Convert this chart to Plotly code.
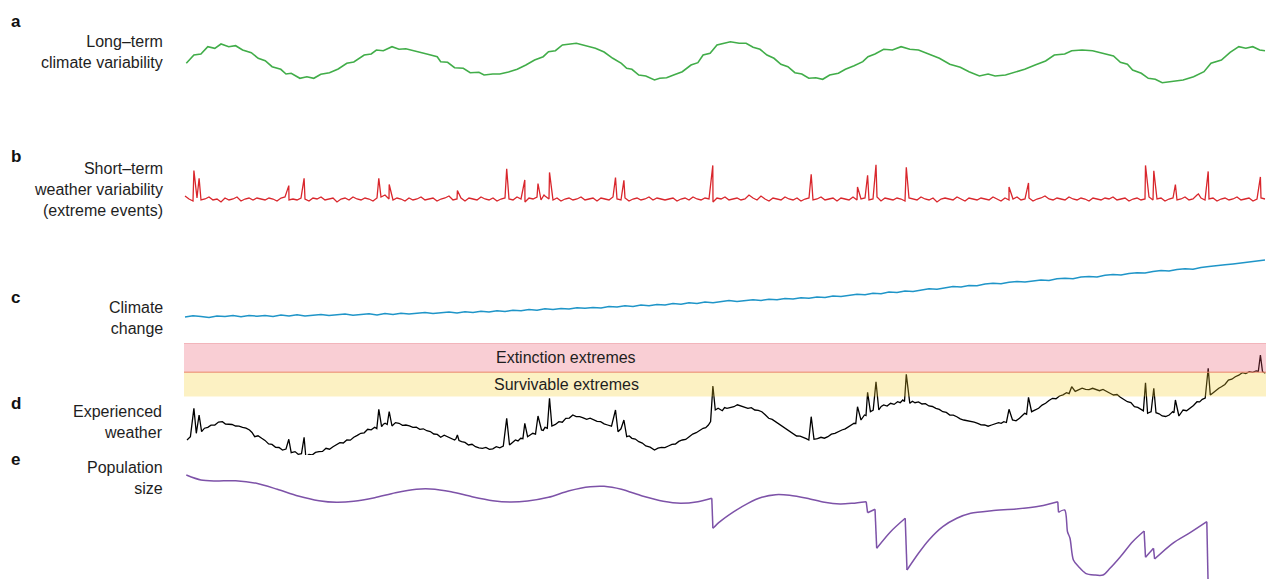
import plotly.graph_objects as go

W, H = 1266, 579

# ---------------- data (time steps, panel-specific units) ----------------
# a: long-term climate variability
green_t = [1.3, 8.9, 15.9, 22.8, 29.8, 36, 43.7, 50.6, 57.6, 66.3, 73.2, 80.2, 87.1, 95.8, 101, 106.2,
           114.9, 121.9, 128.8, 135.8, 144.5, 153.2, 161.8, 168.8, 179.2, 186.2, 191.4, 198.3, 207, 214,
           220.9, 231.4, 241.8, 252.2, 255.7, 262.6, 269.6, 278.3, 285.2, 293.9, 299.1, 307.8, 314.8,
           323.5, 332.2, 340.9, 349.6, 358.2, 363.5, 370.4, 377.4, 391.3, 401.7, 410.4, 419.1, 427.8,
           436.4, 441.7, 446.9, 453.8, 460.8, 469.5, 474.7, 481.6, 488.6, 497.3, 506, 512.9, 518.1,
           525.1, 532, 545.4, 554.2, 561.1, 568.1, 575, 582, 589, 595.9, 602.9, 609.9, 616.8, 623.8,
           630.8, 637.7, 644.7, 653.4, 660.4, 669.1, 677.8, 683, 690, 698.7, 707.4, 716.1, 724.8, 733.5,
           743.9, 754.4, 764.8, 775.3, 784, 794.4, 803.1, 810.1, 820.5, 829.2, 839.7, 850.1, 860.6,
           869.3, 879.7, 886.7, 897.1, 907.6, 918, 928.5, 935.4, 942.4, 947.6, 956.3, 963.3, 970.3,
           977.2, 987.7, 998.1, 1008.6, 1019, 1026, 1036.4, 1045.1, 1053.8, 1060.8, 1067.8, 1074.7, 1080]
green_v = [-1.3, 7, 8, 15.3, 13.7, 18, 15.3, 16.3, 12, 9.3, 3.7, 1.3, -4.7, -7.3, -12, -11.3,
           -16.3, -14.7, -16.3, -12.3, -10.7, -7, -1.3, 0, 7, 8, 12, 11.3, 15.3, 12.7,
           13.3, 10.3, 8, 5.3, 0.3, -0.3, -5.7, -6.3, -10.7, -10.3, -13, -12, -12,
           -10, -7.3, -3, 2, 5.3, 10.3, 11.3, 17, 18.7, 16.3, 13.7, 10, 3.7,
           -1.3, -6.3, -7.3, -13, -14, -18, -16.3, -15.7, -13, -9.7, -3, -0.7, 7,
           8.7, 17, 20.3, 18.7, 18.7, 14.7, 12.7, 7, 3.7, -2.3, -4.7, -10.7, -12, -16.3,
           -15.7, -17.3, -13, -11.3, -7.3, -3.7, 0.3, 5.3, 8, 12.7, 12, 15.3, 12.7, 12,
           8, 3.7, -2.3, -5.3, -9.7, -14, -12, -14, -13, -10.3, -7.3, -3, 1,
           7, 8, 11.3, 12, 11.3, 8.7, 6, -0.3, -2.3, -8, -11.3, -16.3, -17.3,
           -20.7, -19.7, -18, -14.7, -9.7, -1.3, 2, 9.7, 15.3, 13.7, 15.3, 12, 11.3]

# b: short-term weather variability — baseline sampled every 4 steps, plus extreme events
red_step = 4
red_base = [3, 0, -2, 1, -1, 0, 2, -1, 0, -3,
            1, -1, 0, 2, -2, 0, 1, -1, 1, 0,
            -1, 1, 0, -2, 1, 2, -1, 0, -1, 1,
            0, -2, 1, 0, 2, -1, 0, 1, -3, 0,
            1, -1, 2, 0, -1, 1, 0, -2, 1, 2,
            4, 0, -1, 1, 0, -2, 1, -1, 0, 2,
            -1, 0, 1, -2, 0, 1, 3, -1, 0, 1,
            -2, 1, 0, -1, 2, 0, -1, 1, -2, 0,
            1, 0, -1, 2, 0, -3, 1, 0, 2, -1,
            3, 0, -1, 1, -2, 0, 1, -1, 0, 2,
            -1, 0, 1, -2, 1, 0, -1, 2, 0, -1,
            1, -2, 0, 1, -1, 0, 2, -1, 1, 0,
            -1, 0, 1, -2, 0, 1, -1, 2, 0, -1,
            1, 0, -3, 1, 0, 2, -1, 0, 1, -1,
            0, 4, 1, -1, 3, 0, -2, 1, 0, -1,
            2, 0, -1, 1, -2, 0, 1, -1, 0, 2,
            -1, 0, 1, -2, 1, 0, -1, 2, -1, 0,
            1, -1, 0, 2, -2, 1, 0, -1, 1, 0,
            -2, 1, 0, -1, 2, 0, -1, 1, -3, 0,
            1, 0, -1, 2, 0, -2, 1, 0, -1, 1,
            0, -1, 2, 0, -2, 1, -1, 0, 2, -1,
            0, 1, -2, 0, 1, 3, 0, -1, 1, 0,
            -1, 2, 0, -1, 1, 0, -2, 1, 0, -1,
            1, 0, 2, -1, 0, 1, -2, 0, 1, -1,
            0, 2, -1, 0, 1, -2, 0, 1, -1, 0,
            2, -1, 0, 4, 1, -1, 0, 1, -2, 0,
            1, -1, 0, 2, -1, 0, 1, -2, 0, 1,
            0]
event_t = [8.9, 14.1, 103.8, 119.1, 193.8, 199.4, 204.2, 272.4, 321.7, 339.8, 353, 359, 364.5,
           430.5, 438.9, 527.8, 626.2, 672.5, 682.6, 691, 721.3, 824, 843.5, 960.5, 968.8,
           990.4, 1013.4, 1023.2, 1075.4]
event_v = [28.4, 20.7, 13.4, 20.7, 20.7, 3.3, 14.5, 8.5, 30.1, 19, 15.5, 4, 26.6,
           21.4, 18.6, 33.6, 24.8, 12, 23.8, 34.3, 31.8, 12, 16.1, 33.6, 28.3,
           14.4, 5, 27.6, 22.1]

# c: climate change — sampled every 8 steps
blue_step = 8
blue_v = [3.0, 4.2, 3.5, 2.6, 4.0, 3.6, 4.4, 3.2, 4.6, 3.8,
          4.5, 3.6, 4.9, 4.0, 5.3, 3.9, 4.8, 5.6, 4.5, 5.2,
          5.9, 4.8, 5.7, 6.2, 5.1, 6.4, 5.6, 6.8, 6.0, 6.6,
          7.4, 6.5, 7.2, 7.9, 7.0, 8.3, 7.6, 8.8, 8.1, 9.2,
          8.6, 9.8, 9.3, 10.5, 9.8, 11.2, 10.6, 11.6, 11.0, 12.3,
          11.8, 12.6, 12.1, 13.4, 13.0, 14.2, 13.5, 14.9, 14.3, 15.6,
          15.1, 16.4, 15.8, 17.3, 16.6, 17.9, 17.2, 18.6, 19.5, 18.4,
          19.6, 20.3, 19.6, 20.8, 20.2, 21.6, 21.0, 22.3, 21.7, 23.0,
          22.6, 24.0, 23.6, 24.9, 25.8, 25.2, 26.7, 26.3, 27.9, 27.5,
          29.0, 28.6, 30.1, 31.3, 30.8, 32.4, 33.4, 33.0, 34.5, 34.2,
          36.0, 36.8, 36.2, 37.7, 38.4, 37.9, 39.3, 40.1, 39.6, 41.2,
          41.8, 41.3, 42.9, 43.6, 43.1, 44.7, 45.5, 45.0, 46.6, 47.3,
          47.0, 48.6, 49.4, 48.9, 50.5, 51.3, 50.8, 52.5, 53.4, 54.0,
          55.2, 56.1, 56.9, 58.0, 58.8, 60.0]

# d: experienced weather
black_t = [2, 5.4, 8.9, 11.3, 14.1, 16.6, 19.5, 22.8, 26, 29.8, 33.5, 37.4, 40.5, 43.7, 47, 50.6, 54, 57.6,
           61, 64.5, 67, 69.7, 73, 76.7, 80, 83.6, 87, 90.6, 94, 97.5, 101, 103.8, 106.2, 110, 113.2, 116.5,
           119.1, 120.8, 124, 127.1, 130.5, 134, 137.5, 141, 144.5, 148, 151.5, 154.9, 158.3, 161.8, 165.3,
           168.8, 172.3, 175.8, 179.2, 182.7, 186.2, 189.7, 191.8, 193.8, 196.6, 198.4, 200.1, 202.2, 204.2,
           207, 210.5, 214, 217.5, 220.9, 224.4, 227.9, 231.3, 234.8, 238.3, 241.8, 245.3, 248.8, 252.3,
           255.7, 259.2, 262.6, 266.1, 269.6, 271, 272.4, 274, 276.6, 280, 283.5, 287, 290.5, 294, 297.4,
           300.9, 304.4, 307.8, 311.3, 314.8, 318.3, 321.7, 324.5, 327.5, 330.4, 333, 335.7, 337.9, 339.8,
           342.6, 345.2, 347.8, 350.5, 353, 356.5, 358.2, 360, 362.3, 364.5, 366.9, 370.4, 373.9, 377.3,
           380.8, 384.3, 387.8, 391.2, 394.7, 398.2, 401.7, 405.1, 408.6, 412.1, 415.6, 419.1, 422.6, 426.5,
           430.5, 433, 436, 438.9, 441.7, 444.3, 446.9, 450.3, 453.8, 457.3, 460.8, 465.1, 469.5, 473,
           476.4, 479.9, 483.4, 486.9, 490.4, 493.8, 497.3, 500.7, 504.2, 507.7, 511.2, 514.6, 518.1, 520.7,
           523.4, 525.6, 527.9, 530.3, 533.1, 537.3, 539.6, 542, 545.4, 548.9, 552.4, 555.9, 559.4, 562.9,
           566.3, 569.8, 573.3, 576.8, 580.2, 583.7, 587.2, 590.7, 594.2, 597.7, 601.1, 604.6, 608.1, 611.6,
           615.1, 618.6, 621.2, 623.8, 626.2, 629, 632.5, 636, 639.4, 642.9, 646.4, 649.9, 653.4, 656.9,
           660.3, 663.8, 666.4, 669.1, 670.8, 672.5, 676, 679.5, 681, 682.6, 685.4, 688.2, 691, 693.8, 696.2,
           698.7, 702.1, 705.6, 709.1, 712.6, 715.2, 717.8, 719.5, 721.3, 724.8, 727.4, 730, 733.5, 737,
           740.4, 743.9, 747.4, 750.9, 754.3, 757.8, 761.3, 764.8, 768.3, 771.8, 775.2, 778.7, 782.2, 785.7,
           789.2, 792.7, 796.1, 799.6, 803.1, 806.6, 810.1, 813.6, 816.2, 818.8, 821.4, 824, 827.5, 831,
           834.5, 837.1, 839.7, 841.6, 843.5, 846.6, 850.1, 853.6, 857.1, 860.6, 864, 867.5, 871, 874.5,
           878, 881.5, 884.1, 886.7, 890.2, 893.7, 897.1, 900.6, 904.1, 907.6, 911, 914.5, 918, 921.5, 925,
           928.5, 932, 935.4, 938.9, 942.4, 945.9, 949.4, 952.8, 956.3, 958.4, 960.5, 962.6, 964.3, 966.1,
           968.8, 971, 974.1, 977.2, 980.7, 984.2, 985.9, 987.7, 988.9, 990.4, 993.9, 996, 998.1, 1001.6,
           1005.1, 1008.5, 1012, 1014.6, 1017.3, 1020.2, 1023.2, 1025.3, 1028.2, 1031.2, 1033.8, 1036.4,
           1039.9, 1043.4, 1046.8, 1050.3, 1053.8, 1057.3, 1060.8, 1064.3, 1067.7, 1071.2, 1073.3, 1075.4,
           1077.5, 1080.3]
black_v = [20, 23.3, 51.7, 26.7, 45, 28.3, 31.8, 32.7, 34.9, 35, 37.9, 38.3, 36, 36, 35.5, 34, 33.8, 32.7,
           31.9, 30, 27.5, 23.3, 24.2, 21.7, 19.6, 16, 15.6, 12.7, 12.5, 10, 11, 20.7, 7.3, 8.4, 5.7, 6.4,
           22.7, 3.3, 5.5, 5, 7.6, 8.3, 8.6, 11.7, 10.8, 13.3, 15.4, 17.3, 17, 20, 19.8,
           22.7, 24.6, 26.7, 27.2, 30.7, 30.2, 32.7, 31.4, 50.7, 33.3, 35.8, 36.7, 35.5, 48.3,
           34, 37.4, 36.7, 34.6, 35, 34.2, 32.7, 32.8, 30.7, 31.2, 29.3, 28.5, 26, 25.6,
           22.7, 24.8, 23.3, 21.2, 20, 21.4, 25, 19.5, 18.3, 17.6, 15, 15.7, 13.3, 12.1, 11.7,
           12.6, 10.7, 11.2, 13.3, 12.2, 14, 41.7, 15, 17.6, 20, 19.1, 21.7, 21.3, 36.7,
           23.3, 24.9, 26.7, 25.8, 44, 30, 29.6, 32.7, 31.8, 61.7, 34, 35.6, 38.3, 37.8,
           41.7, 41.9, 45, 43.4, 43.3, 42.2, 40.7, 41.8, 40, 38.6, 38.3, 36.1, 35, 33.8,
           50, 28.3, 31.2, 40, 23.3, 24.1, 21.7, 20.9, 18.3, 16.9, 14, 12.9, 10, 11.9,
           12.7, 12.3, 14, 15.6, 16, 18.6, 20, 20.6, 23.3, 25.9, 27.3, 29.8, 31.7, 32.4,
           35, 38.5, 74, 50, 51.7, 49.3, 52.4, 51.7, 52.2, 53.3, 55.2, 54, 52.5, 51.7,
           52.4, 50, 49.6, 48.3, 45.2, 41.7, 40.6, 38.3, 35.4, 33.3, 30.7, 28.3, 26.8, 24,
           23.9, 22.7, 21.3, 20, 43.3, 20.7, 21.3, 22.7, 21.8, 23.3, 25.8, 26.7, 28.6, 30,
           31.1, 33.3, 35.4, 36.7, 36.4, 53.3, 40, 45, 44.5, 67.7, 48.3, 50, 78.3, 50, 53.6,
           55, 53.9, 56.7, 55.6, 58.3, 57.3, 60, 58.5, 85.7, 56.7, 58.8, 57.3, 58.1, 56,
           56.3, 54, 53.5, 51.7, 50.6, 48.3, 47.6, 45, 44.9, 43.3, 41.1, 40, 39.4, 38.3,
           37.8, 36.7, 35.1, 35, 33.8, 35, 36.4, 37.3, 36.6, 38.3, 37.5, 50.7, 40, 39.2,
           41.7, 43.9, 46.7, 45.8, 62.7, 48.3, 49.6, 51.7, 54.9, 56.7, 59.5, 61.7, 61.3, 64,
           65.2, 67.3, 66.4, 73.3, 68.6, 70, 71.9, 70.7, 70.4, 71.7, 70.2, 69.3, 70.5, 68.3, 66.8,
           65, 65.5, 62.7, 60.9, 58.3, 57.4, 53.3, 52.6, 50, 49.2, 77.3, 46.7, 47.5, 48.3,
           71.7, 47.3, 46.2, 44, 43.5, 45, 46.6, 48.3, 47.2, 60, 44, 47.5, 50, 49.3,
           51.7, 54.6, 58.3, 58.1, 60.7, 61.9, 91.7, 65, 67.3, 70, 71.8, 73.3,
           75.5, 80, 80.8, 83.3, 84.8, 87.3, 86.4, 88.3, 87.6, 89, 88.5, 105,
           88.3, 86.7]
band_top = 116.5            # upper edge of "Extinction extremes"
extinction_threshold = 87.8 # boundary extinction / survivable
survivable_threshold = 63.4 # lower edge of "Survivable extremes"

# e: population size
pop_t = [1.3, 15.9, 29.8, 50.6, 71.5, 92.3, 113.2, 134, 151.4, 168.8,
         189.7, 210.5, 231.4, 245.3, 266.1, 287, 307.8, 325.2, 342.6, 363.5,
         384.3, 405.2, 419.1, 436.4, 457.3, 478.2, 495.5, 512.9, 526.8, 527.9,
         535, 548.9, 562.9, 576.8, 590.7, 604.6, 622, 639.5, 655.1, 667.3,
         681.2, 682.6, 690, 691.7, 705.6, 720.2, 722, 733.5, 743.9, 757.8,
         771.8, 785.7, 806.6, 831, 855.3, 872.8, 873.5, 879.7, 882.5, 885,
         888.4, 893.6, 900.6, 909.3, 918, 925, 935.4, 947.6, 959.1, 960.5,
         968.5, 969.6, 987.7, 1005.1, 1021.8, 1023.2]
pop_v = [105, 100, 99, 99.3, 96.7, 90.7, 84, 79.3, 77.7, 78.7,
         82.3, 87.3, 90.7, 91, 88.3, 83.3, 79.3, 78, 79, 82.7,
         89.3, 93.3, 93.7, 90.7, 84, 78.7, 76.7, 78.3, 81.7, 51.7,
         58.3, 68.3, 76.7, 82.7, 85.3, 84.7, 81.7, 77.7, 76, 76.7,
         78.3, 67.3, 70.7, 31.7, 48.3, 61.7, 10, 26.7, 40, 53.3,
         61.7, 66.7, 69.3, 71, 74, 78.3, 67.7, 70, 48.3, 41.7,
         20, 13.3, 6.7, 5, 5, 11.7, 23.3, 38.3, 49, 22.7,
         31.7, 21, 36.7, 47.3, 58.3, -8]

# ---------------- figure ----------------
FONT = "Liberation Sans, Arial, Helvetica, sans-serif"
TXT = "#1e1e1e"
PURPLE = "#7d52a8"

def dom(top_px, bot_px):
    return [1 - bot_px / H, 1 - top_px / H]

fig = go.Figure()

fig.add_trace(go.Scatter(x=green_t, y=green_v, mode="lines", yaxis="y",
                         line=dict(color="#41ad49", width=1.6), hoverinfo="skip"))

red_pts = [(i * red_step, v) for i, v in enumerate(red_base)] + list(zip(event_t, event_v))
red_pts.sort(key=lambda p: p[0])
fig.add_trace(go.Scatter(x=[p[0] for p in red_pts], y=[p[1] for p in red_pts], mode="lines",
                         yaxis="y2", line=dict(color="#d9262c", width=1.3), hoverinfo="skip"))

fig.add_trace(go.Scatter(x=[i * blue_step for i in range(len(blue_v))], y=blue_v, mode="lines",
                         yaxis="y3", line=dict(color="#1f95c8", width=1.5), hoverinfo="skip"))

fig.add_trace(go.Scatter(x=black_t, y=black_v, mode="lines", yaxis="y4",
                         line=dict(color="#000000", width=1.3), hoverinfo="skip"))

# population: smooth growth pieces (spline) joined by abrupt crashes (straight drops)
pieces, cur = [], [0]
for i in range(1, len(pop_t)):
    if pop_t[i] - pop_t[i - 1] < 2:
        pieces.append(cur)
        cur = [i]
    else:
        cur.append(i)
pieces.append(cur)
drop_x, drop_y = [], []
for a, b in zip(pieces[:-1], pieces[1:]):
    drop_x += [pop_t[a[-1]], pop_t[b[0]], None]
    drop_y += [pop_v[a[-1]], pop_v[b[0]], None]
for p in pieces:
    if len(p) > 1:
        fig.add_trace(go.Scatter(x=[pop_t[i] for i in p], y=[pop_v[i] for i in p], mode="lines",
                                 yaxis="y5", line=dict(color=PURPLE, width=1.5, shape="spline",
                                                       smoothing=0.8), hoverinfo="skip"))
fig.add_trace(go.Scatter(x=drop_x, y=drop_y, mode="lines", yaxis="y5",
                         line=dict(color=PURPLE, width=1.5), hoverinfo="skip"))

# threshold bands (drawn over the line, semi-transparent)
fig.add_shape(type="rect", xref="x", yref="y4", x0=-1, x1=1081, y0=extinction_threshold, y1=band_top,
              fillcolor="rgba(232,80,100,0.28)", line=dict(width=0), layer="above")
fig.add_shape(type="rect", xref="x", yref="y4", x0=-1, x1=1081, y0=survivable_threshold,
              y1=extinction_threshold, fillcolor="rgba(245,205,40,0.28)", line=dict(width=0), layer="above")
fig.add_shape(type="line", xref="x", yref="y4", x0=-1, x1=1081, y0=band_top, y1=band_top,
              line=dict(color="rgba(230,120,130,0.45)", width=1.2), layer="above")
fig.add_shape(type="line", xref="x", yref="y4", x0=-1, x1=1081, y0=extinction_threshold,
              y1=extinction_threshold, line=dict(color="rgba(235,140,110,0.7)", width=1.5), layer="above")

fig.add_annotation(x=381, y=(extinction_threshold + band_top) / 2, xref="x", yref="y4",
                   text="Extinction extremes", showarrow=False, font=dict(family=FONT, size=16, color=TXT))
fig.add_annotation(x=381, y=(survivable_threshold + extinction_threshold) / 2, xref="x", yref="y4",
                   text="Survivable extremes", showarrow=False, font=dict(family=FONT, size=16, color=TXT))

labels = [("a", 22, "Long–term<br>climate variability", 51.5),
          ("b", 157, "Short–term<br>weather variability<br>(extreme events)", 189.5),
          ("c", 297, "Climate<br>change", 317.5),
          ("d", 403, "Experienced<br>weather", 421.5),
          ("e", 459, "Population<br>size", 478)]
for letter, ly, text, ty in labels:
    fig.add_annotation(x=9 / W, y=1 - ly / H, xref="paper", yref="paper", text="<b>%s</b>" % letter,
                       showarrow=False, xanchor="left", yanchor="middle",
                       font=dict(family=FONT, size=17, color="#111"))
    fig.add_annotation(x=165 / W, y=1 - ty / H, xref="paper", yref="paper", text=text,
                       showarrow=False, xanchor="right", yanchor="middle", align="right",
                       font=dict(family=FONT, size=16, color=TXT))

ax = dict(visible=False, showgrid=False, zeroline=False, fixedrange=True)
fig.update_layout(
    width=W, height=H, margin=dict(l=0, r=0, t=0, b=0),
    paper_bgcolor="white", plot_bgcolor="white", showlegend=False,
    xaxis=dict(ax, range=[-185, 1081], domain=[0, 1]),
    yaxis=dict(ax, range=[-33, 32], domain=dom(30, 95)),
    yaxis2=dict(ax, range=[-11, 39], domain=dom(160, 210)),
    yaxis3=dict(ax, range=[-5, 65], domain=dom(255, 325)),
    yaxis4=dict(ax, range=[-5, 120], domain=dom(340, 465)),
    yaxis5=dict(ax, range=[1, 125], domain=dom(455, 579)),
)

fig.write_html("out.html", config={"displayModeBar": False, "staticPlot": True},
               post_script="document.body.style.margin='0';document.body.style.overflow='hidden';")
